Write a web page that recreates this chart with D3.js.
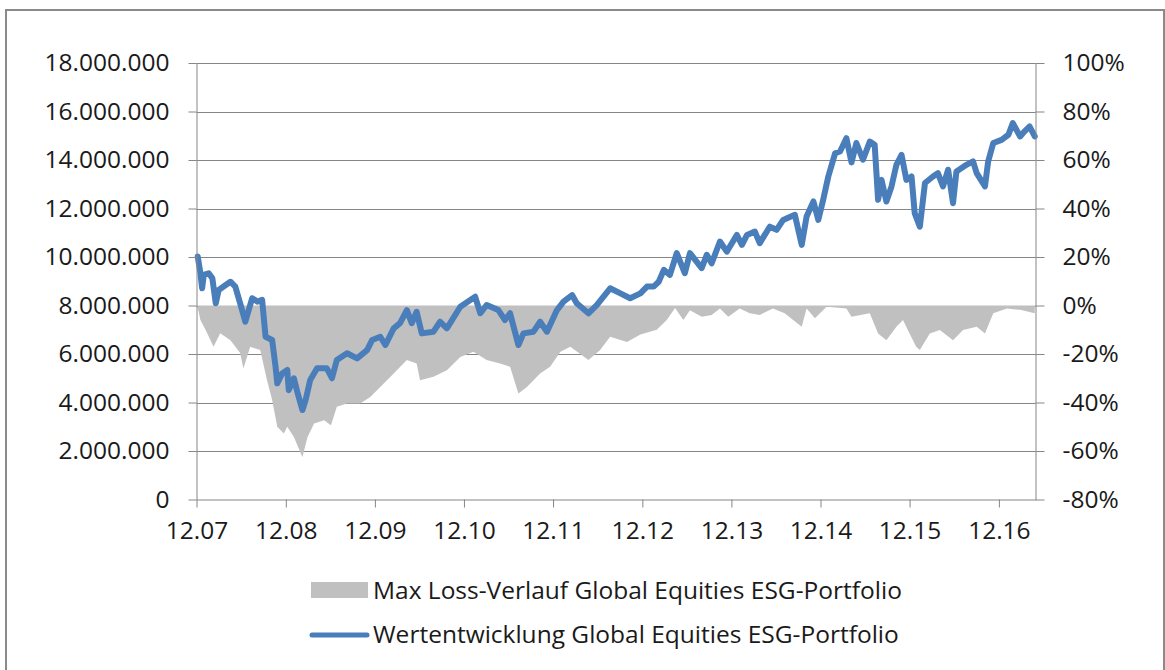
<!DOCTYPE html>
<html>
<head>
<meta charset="utf-8">
<script src="https://cdn.jsdelivr.net/npm/d3@7"></script>
<style>
    body { margin: 0; background: #fff; }
    svg text { font-family: "Open Sans", sans-serif; fill: #1a1a1a; }
</style>
</head>
<body>
<svg id="chart" width="1165" height="670"></svg>
<script>
// Wertentwicklung (Portfoliowert in EUR)
const wertDates = ["2007-12-06","2007-12-17","2007-12-24","2007-12-31","2008-01-20","2008-02-04","2008-02-18","2008-03-01","2008-03-21","2008-04-18","2008-05-08","2008-05-28","2008-06-18","2008-07-16","2008-08-06","2008-08-26","2008-09-09","2008-10-06","2008-10-20","2008-10-27","2008-11-16","2008-12-07","2008-12-13","2009-01-03","2009-01-17","2009-02-07","2009-02-20","2009-03-11","2009-04-08","2009-05-18","2009-06-08","2009-06-28","2009-08-09","2009-09-19","2009-10-30","2009-11-20","2009-12-23","2010-01-13","2010-02-16","2010-03-14","2010-04-11","2010-05-01","2010-05-21","2010-06-11","2010-07-29","2010-08-25","2010-09-22","2010-11-16","2011-01-16","2011-02-06","2011-03-04","2011-04-21","2011-05-18","2011-06-08","2011-07-12","2011-08-02","2011-09-12","2011-10-09","2011-11-06","2011-12-17","2012-01-13","2012-02-17","2012-03-07","2012-04-24","2012-05-28","2012-07-22","2012-09-02","2012-10-12","2012-11-23","2012-12-20","2013-01-16","2013-02-06","2013-02-27","2013-03-24","2013-04-21","2013-05-24","2013-06-14","2013-08-01","2013-08-22","2013-09-11","2013-10-15","2013-11-12","2013-12-23","2014-01-13","2014-02-03","2014-03-07","2014-03-27","2014-05-07","2014-06-04","2014-07-01","2014-08-18","2014-09-15","2014-10-05","2014-11-02","2014-11-22","2014-12-12","2015-01-02","2015-01-30","2015-02-19","2015-03-17","2015-04-07","2015-04-27","2015-05-24","2015-06-21","2015-07-11","2015-07-25","2015-08-08","2015-08-28","2015-09-18","2015-10-08","2015-10-29","2015-11-18","2015-12-09","2015-12-22","2016-01-12","2016-02-02","2016-03-06","2016-03-26","2016-04-16","2016-05-07","2016-05-27","2016-06-10","2016-07-21","2016-08-17","2016-09-01","2016-10-05","2016-10-18","2016-11-08","2016-12-12","2017-01-09","2017-01-27","2017-02-26","2017-03-16","2017-04-06","2017-04-27"]
const wertValues = [10020000,9340000,8710000,9260000,9330000,9120000,8090000,8640000,8780000,8980000,8780000,8090000,7330000,8300000,8160000,8230000,6710000,6580000,5470000,4790000,5200000,5340000,4510000,5000000,4440000,3690000,4100000,4930000,5410000,5410000,5000000,5750000,6030000,5820000,6160000,6580000,6710000,6370000,7060000,7270000,7810000,7270000,7740000,6850000,6920000,7330000,7060000,7950000,8360000,7680000,8020000,7810000,7400000,7680000,6370000,6850000,6920000,7330000,6920000,7810000,8160000,8430000,8090000,7680000,8020000,8710000,8500000,8300000,8500000,8780000,8780000,8980000,9470000,9260000,10160000,9330000,10160000,9540000,10090000,9740000,10640000,10220000,10910000,10500000,10910000,11050000,10570000,11250000,11120000,11530000,11740000,10500000,11670000,12290000,11530000,12360000,13320000,14280000,14350000,14900000,13900000,14700000,14010000,14760000,14630000,12360000,13180000,12290000,12910000,13800000,14210000,13180000,13320000,11810000,11250000,13050000,13320000,13460000,12910000,13600000,12220000,13530000,13800000,13940000,13460000,12910000,13940000,14700000,14830000,15040000,15520000,14970000,15180000,15380000,14970000]

// Max Loss-Verlauf (Anteil, rechte Achse)
const lossDates = ["2007-12-04","2007-12-17","2008-01-07","2008-02-09","2008-03-07","2008-04-18","2008-05-28","2008-06-10","2008-07-08","2008-08-18","2008-09-15","2008-10-06","2008-10-27","2008-11-23","2008-12-07","2009-01-03","2009-02-07","2009-02-28","2009-03-27","2009-05-07","2009-06-04","2009-06-28","2009-08-09","2009-10-02","2009-11-12","2009-12-23","2010-02-16","2010-04-11","2010-05-21","2010-06-04","2010-07-29","2010-09-22","2010-11-16","2011-01-09","2011-03-04","2011-04-28","2011-06-08","2011-07-12","2011-08-16","2011-10-09","2011-11-19","2011-12-31","2012-02-10","2012-04-24","2012-06-11","2012-07-22","2012-09-29","2012-11-23","2013-01-29","2013-03-11","2013-04-14","2013-05-18","2013-06-14","2013-08-01","2013-09-11","2013-10-15","2013-11-18","2014-01-04","2014-02-14","2014-03-27","2014-05-20","2014-07-07","2014-09-15","2014-10-05","2014-11-08","2014-12-26","2015-03-17","2015-04-07","2015-06-21","2015-07-25","2015-08-28","2015-10-08","2015-11-04","2015-12-01","2015-12-28","2016-01-12","2016-02-22","2016-04-03","2016-05-27","2016-07-07","2016-09-01","2016-10-05","2016-11-08","2017-01-03","2017-02-26","2017-04-27"]
const lossValues = [0,-0.06,-0.10,-0.17,-0.114,-0.143,-0.196,-0.26,-0.17,-0.184,-0.308,-0.39,-0.50,-0.528,-0.50,-0.542,-0.625,-0.542,-0.487,-0.473,-0.494,-0.418,-0.404,-0.404,-0.377,-0.336,-0.28,-0.225,-0.239,-0.308,-0.294,-0.267,-0.212,-0.191,-0.225,-0.239,-0.253,-0.363,-0.336,-0.28,-0.253,-0.191,-0.17,-0.225,-0.184,-0.129,-0.15,-0.12,-0.10,-0.06,-0.01,-0.06,-0.02,-0.046,-0.039,-0.012,-0.046,-0.012,-0.032,-0.039,-0.012,-0.032,-0.088,-0.012,-0.053,-0.005,-0.012,-0.046,-0.032,-0.115,-0.143,-0.088,-0.06,-0.115,-0.17,-0.184,-0.115,-0.101,-0.143,-0.101,-0.088,-0.115,-0.032,-0.012,-0.018,-0.032]

// Achsen
const xTickDates = ["2007-12-01","2008-12-01","2009-12-01","2010-12-01","2011-12-01","2012-12-01","2013-12-01","2014-12-01","2015-12-01","2016-12-01"]
const leftTicks = [0,2e6,4e6,6e6,8e6,10e6,12e6,14e6,16e6,18e6]
const rightTicks = [-0.8,-0.6,-0.4,-0.2,0,0.2,0.4,0.6,0.8,1.0]
const legendLabels = ["Max Loss-Verlauf Global Equities ESG-Portfolio", "Wertentwicklung Global Equities ESG-Portfolio"]

const colors = {
    area: "#c0c0c0",
    line: "#4a7ebb",
    grid: "#868686"
}
const plot = {left: 196.5, right: 1035.5, top: 63, bottom: 499.5}
const fontSize = "24.5px"

const parse = d3.timeParse("%Y-%m-%d")
const de = d3.formatLocale({decimal: ",", thousands: ".", grouping: [3], currency: ["", "€"], minus: "-"})

const svg = d3.select("#chart")

// Rahmen
svg.append("rect")
    .attr("x", 6).attr("y", 10)
    .attr("width", 1158).attr("height", 700)
    .attr("fill", "none")
    .attr("stroke", "#8a8a8a")
    .attr("stroke-width", 2)

const x = d3.scaleTime()
    .domain([parse("2007-12-01"), parse("2017-04-30")])
    .range([plot.left, plot.right])
const yLeft = d3.scaleLinear().domain([0, 18e6]).range([plot.bottom, plot.top])
const yRight = d3.scaleLinear().domain([-0.8, 1.0]).range([plot.bottom, plot.top])

// Gitternetz
svg.append("g")
    .selectAll("line")
    .data(leftTicks.slice(1))
    .join("line")
    .attr("x1", plot.left).attr("x2", plot.right)
    .attr("y1", d => Math.round(yLeft(d)) + 0.5)
    .attr("y2", d => Math.round(yLeft(d)) + 0.5)
    .attr("stroke", colors.grid)
    .attr("stroke-width", 1)

// Max Loss Flaeche
const lossData = lossDates.map((d, i) => ({date: parse(d), value: lossValues[i]}))
svg.append("path")
    .datum(lossData)
    .attr("fill", colors.area)
    .attr("d", d3.area()
        .x(d => x(d.date))
        .y0(yRight(0))
        .y1(d => yRight(d.value)))

// Wertentwicklung Linie
const wertData = wertDates.map((d, i) => ({date: parse(d), value: wertValues[i]}))
svg.append("path")
    .datum(wertData)
    .attr("fill", "none")
    .attr("stroke", colors.line)
    .attr("stroke-width", 6)
    .attr("stroke-linejoin", "round")
    .attr("stroke-linecap", "round")
    .attr("d", d3.line()
        .x(d => x(d.date))
        .y(d => yLeft(d.value)))

function styleAxis(g){
    g.attr("font-family", null)
    g.select(".domain").attr("stroke", colors.grid)
    g.selectAll(".tick line").attr("stroke", colors.grid)
    g.selectAll(".tick text")
        .attr("fill", "#1a1a1a")
        .style("font-size", fontSize)
}

svg.append("g")
    .attr("transform", "translate(" + plot.left + ",0)")
    .call(d3.axisLeft(yLeft).tickValues(leftTicks).tickFormat(de.format(",.0f"))
        .tickSize(8).tickSizeOuter(0).tickPadding(19))
    .call(styleAxis)

svg.append("g")
    .attr("transform", "translate(" + plot.right + ",0)")
    .call(d3.axisRight(yRight).tickValues(rightTicks).tickFormat(de.format(".0%"))
        .tickSize(9).tickSizeOuter(0).tickPadding(18))
    .call(styleAxis)

svg.append("g")
    .attr("transform", "translate(0," + plot.bottom + ")")
    .call(d3.axisBottom(x).tickValues(xTickDates.map(parse)).tickFormat(d3.timeFormat("%m.%y"))
        .tickSize(8).tickSizeOuter(0).tickPadding(14))
    .call(styleAxis)

// Legende
const legend = svg.append("g").attr("transform", "translate(311,0)")
legend.append("rect")
    .attr("x", 0).attr("y", 582)
    .attr("width", 57).attr("height", 16)
    .attr("fill", colors.area)
legend.append("line")
    .attr("x1", 1).attr("x2", 56)
    .attr("y1", 635).attr("y2", 635)
    .attr("stroke", colors.line)
    .attr("stroke-width", 5)
    .attr("stroke-linecap", "round")
legend.selectAll("text")
    .data(legendLabels)
    .join("text")
    .attr("x", 62)
    .attr("y", (d, i) => 590 + i * 44)
    .attr("dy", "0.35em")
    .style("font-size", fontSize)
    .text(d => d)
</script>
</body>
</html>
